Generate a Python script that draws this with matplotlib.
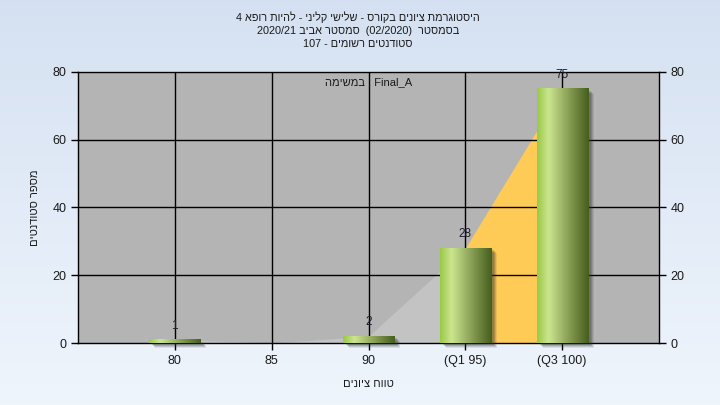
import numpy as np
import matplotlib
matplotlib.use("Agg")
import matplotlib.pyplot as plt
from matplotlib.patches import Rectangle
from matplotlib.transforms import offset_copy

plt.rcParams['font.family'] = ['Liberation Sans', 'DejaVu Sans']

# ---------------- data ----------------
categories = ["80", "85", "90", "(Q1 95)", "(Q3 100)"]
counts = [1, 0, 2, 28, 75]
q1_index = 3
q3_index = 4
title_lines = [
    "היסטוגרמת ציונים בקורס - שלישי קליני - להיות רופא 4",
    "בסמסטר  (02/2020)  סמסטר אביב 2020/21",
    "סטודנטים רשומים - 107",
]
task_label = "במשימה : Final_A"
y_label = "מספר סטודנטים"
x_label = "טווח ציונים"
y_ticks = [0, 20, 40, 60, 80]


def is_heb(tok):
    return any('\u0590' <= c <= '\u05ff' for c in tok)


def rtl(s):
    """logical RTL paragraph -> visual left-to-right string"""
    toks = s.split(' ')
    return ' '.join(t[::-1] if is_heb(t) else t for t in reversed(toks))


def ltr(s):
    toks = s.split(' ')
    return ' '.join(t[::-1] if is_heb(t) else t for t in toks)


W, H = 720, 405
fig = plt.figure(figsize=(7.2, 4.05), dpi=100)

# background gradient
bg = fig.add_axes([0, 0, 1, 1], zorder=-10)
grad = np.linspace(0, 1, 256)[:, None]
top_c = np.array([0.835, 0.882, 0.949])
bot_c = np.array([0.937, 0.961, 0.988])
img = top_c[None, None, :] * (1 - grad[:, :, None]) + bot_c[None, None, :] * grad[:, :, None]
bg.imshow(img, aspect='auto', extent=(0, 1, 0, 1), origin='upper')
bg.set_axis_off()

L, R, T, B = 78, 659, 72, 343
ax = fig.add_axes([L / W, 1 - B / H, (R - L) / W, (B - T) / H])
ax.set_facecolor('#b4b4b4')
x = np.arange(1, len(categories) + 1)
ax.set_xlim(0, len(categories) + 1)
ax.set_ylim(0, 80)

# area behind bars
xs = x.astype(float)
ys = np.array(counts, dtype=float)
ax.fill_between(xs[:q1_index + 1], ys[:q1_index + 1], 0, color='#c3c3c3', lw=0, zorder=1)
ax.fill_between(xs[q1_index:q3_index + 1], ys[q1_index:q3_index + 1], 0,
                color='#ffcb57', lw=0, zorder=1)

# grid
for yv in y_ticks[1:-1]:
    ax.axhline(yv, color='black', lw=1, zorder=2)
for xv in x:
    ax.axvline(xv, color='black', lw=1, zorder=2)

# bars with gradient
bw = 0.53
stops = np.array([0.0, 0.22, 0.6, 1.0])
cols = np.array([[0.60, 0.79, 0.28],
                 [0.80, 0.90, 0.56],
                 [0.54, 0.63, 0.34],
                 [0.27, 0.37, 0.11]])
t = np.linspace(0, 1, 100)
bar_grad = np.stack([np.interp(t, stops, cols[:, k]) for k in range(3)], axis=-1)[None, :, :]

for xi, v in zip(x, counts):
    if v <= 0:
        continue
    # shadow
    for k, (dx, a) in enumerate([(6, 0.10), (5, 0.15), (4, 0.2), (3, 0.2)]):
        tr = offset_copy(ax.transData, fig=fig, x=dx, y=-dx + 1, units='dots')
        ax.add_patch(Rectangle((xi - bw / 2, 0), bw, v, transform=tr,
                               facecolor='#303030', alpha=a, lw=0, zorder=3, clip_on=False))
    ax.imshow(bar_grad, aspect='auto', extent=(xi - bw / 2, xi + bw / 2, 0, v),
              zorder=4, interpolation='bilinear')
    ax.annotate(str(v), (xi, v), xytext=(0, 8), textcoords='offset pixels',
                ha='center', va='bottom', fontsize=8.5, color='#1c1c30', zorder=6)

ax.set_xlim(0, len(categories) + 1)
ax.set_ylim(0, 80)

ax.set_xticks(x)
ax.set_xticklabels(categories)
ax.set_yticks(y_ticks)
for sp in ax.spines.values():
    sp.set_color('black')
    sp.set_linewidth(1)
ax.tick_params(axis='both', colors='black', labelcolor='#1a1a1a', labelsize=9,
               length=5, width=1, direction='out')

ax2 = ax.twinx()
ax2.set_ylim(0, 80)
ax2.set_yticks(y_ticks)
ax2.tick_params(axis='y', colors='black', labelcolor='#1a1a1a', labelsize=9,
                length=5, width=1, direction='out')
for sp in ax2.spines.values():
    sp.set_visible(False)

ax.set_ylabel(rtl(y_label), fontsize=8, color='#1a1a1a')
ax.yaxis.set_label_coords((40 - L) / (R - L), 0.5)
ax.set_xlabel(rtl(x_label), fontsize=8, color='#1a1a1a', labelpad=9)

ax.text(3, 77, ltr(task_label), ha='center', va='center', fontsize=8,
        color='#1a1a1a', zorder=7)

for i, (line, ypx) in enumerate(zip(title_lines, [17, 31, 44])):
    fig.text(0.497, 1 - ypx / H, rtl(line), ha='center', va='center',
             fontsize=7.8, color='#1a1a1a')

fig.savefig('out.png', dpi=100)
